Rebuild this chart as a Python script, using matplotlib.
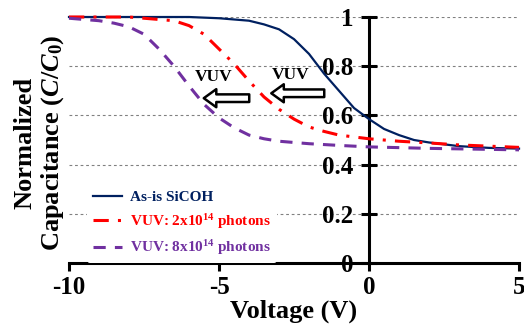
import matplotlib
matplotlib.use("Agg")
import matplotlib.pyplot as plt

# ---- data ----
v_asis = [-10, -6, -5, -4, -3.5, -3, -2.5, -2, -1.5, -1, -0.5, 0, 0.5, 1, 1.5, 2, 3, 4, 5]
c_asis = [1.0, 1.0, 0.995, 0.985, 0.97, 0.95, 0.91, 0.85, 0.77, 0.70, 0.63, 0.585, 0.545,
          0.52, 0.50, 0.49, 0.475, 0.468, 0.465]

v_vuv2 = [-10, -8, -7, -6.5, -6, -5.5, -5, -4.5, -4, -3.5, -3, -2.5, -2, -1.5, -1, 0, 1, 2, 3, 4, 5]
c_vuv2 = [1.0, 1.0, 0.99, 0.985, 0.965, 0.93, 0.87, 0.81, 0.74, 0.675, 0.625, 0.585, 0.553,
          0.535, 0.52, 0.505, 0.495, 0.488, 0.48, 0.475, 0.47]

v_vuv8 = [-10, -9, -8.5, -8, -7.5, -7, -6.5, -6, -5.5, -5, -4.5, -4, -3.5, -3, -2, -1, 0, 2, 5]
c_vuv8 = [0.995, 0.985, 0.975, 0.96, 0.93, 0.87, 0.80, 0.72, 0.645, 0.59, 0.55, 0.52, 0.505,
          0.495, 0.485, 0.478, 0.472, 0.466, 0.46]

x_ticks = [-10, -5, 0, 5]
y_ticks = [0, 0.2, 0.4, 0.6, 0.8, 1.0]
y_ticklabels = ["0", "0.2", "0.4", "0.6", "0.8", "1"]

labels = ["As-is SiCOH", "VUV: 2x10$^{14}$ photons", "VUV: 8x10$^{14}$ photons"]
colors = ["#002060", "#FF0000", "#7030A0"]

# ---- fonts ----
plt.rcParams['font.family'] = ['Liberation Serif', 'DejaVu Serif']
plt.rcParams['font.weight'] = 'bold'
plt.rcParams['axes.unicode_minus'] = False
plt.rcParams['mathtext.fontset'] = 'custom'
plt.rcParams['mathtext.rm'] = 'Liberation Serif:bold'
plt.rcParams['mathtext.it'] = 'Liberation Serif:italic:bold'
plt.rcParams['mathtext.bf'] = 'Liberation Serif:bold'

fig = plt.figure(figsize=(5.24, 3.29), dpi=100)
ax = fig.add_axes([0.1317, 0.2006, 0.8588, 0.7477])

# grid lines
for y in y_ticks[1:]:
    ax.axhline(y, color='#808080', lw=0.8, ls=(0, (2.5, 2.5)), zorder=0)

ax.plot(v_asis, c_asis, color=colors[0], lw=1.6, label=labels[0], clip_on=False, zorder=3)
ax.plot(v_vuv2, c_vuv2, color=colors[1], lw=2.2, ls=(0, (5, 3, 1, 3)), label=labels[1],
        clip_on=False, zorder=3)
ax.plot(v_vuv8, c_vuv8, color=colors[2], lw=2.2, ls=(0, (4, 3)), label=labels[2],
        clip_on=False, zorder=3)

ax.set_xlim(-10, 5)
ax.set_ylim(0, 1)

# spines
for s in ['top', 'right']:
    ax.spines[s].set_visible(False)
ax.spines['left'].set_position(('data', 0))
ax.spines['left'].set_linewidth(2.2)
ax.spines['bottom'].set_linewidth(2.2)

ax.set_xticks(x_ticks)
ax.set_yticks(y_ticks)
ax.set_yticklabels(y_ticklabels)
ax.tick_params(axis='x', direction='out', length=6, width=2.2, labelsize=18, pad=3)
ax.tick_params(axis='y', direction='inout', length=11, width=2.2, labelsize=18, pad=6)
for t in ax.get_xticklabels() + ax.get_yticklabels():
    t.set_fontweight('bold')

ax.set_xlabel("Voltage (V)", fontsize=19, fontweight='bold', labelpad=1)
ax.set_ylabel("Normalized\nCapacitance ($\\mathit{C/C_0}$)", fontsize=19, fontweight='bold',
              linespacing=1.15)
ax.yaxis.set_label_coords(-0.006, 0.49)

# hollow arrows with VUV labels
arrow_props = dict(arrowstyle='simple,head_width=1.3,head_length=0.9,tail_width=0.55',
                   fc='white', ec='black', lw=1.8)
ax.annotate('', xy=(-5.6, 0.67), xytext=(-3.9, 0.67), arrowprops=arrow_props)
ax.annotate('', xy=(-3.35, 0.69), xytext=(-1.4, 0.69), arrowprops=arrow_props)
ax.text(-5.17, 0.756, "VUV", fontsize=12.5, fontweight='bold', ha='center', va='center')
ax.text(-2.63, 0.764, "VUV", fontsize=12.5, fontweight='bold', ha='center', va='center')

leg = ax.legend(loc='upper left', bbox_to_anchor=(0.04, 0.32), fontsize=11, frameon=True,
                handlelength=1.9, handletextpad=0.5, labelspacing=0.5, borderaxespad=0)
leg.get_frame().set_facecolor('white')
leg.get_frame().set_edgecolor('none')
leg.get_frame().set_alpha(1)
for txt, c in zip(leg.get_texts(), colors):
    txt.set_color(c)
    txt.set_fontweight('bold')

fig.savefig("out.png", dpi=100)
